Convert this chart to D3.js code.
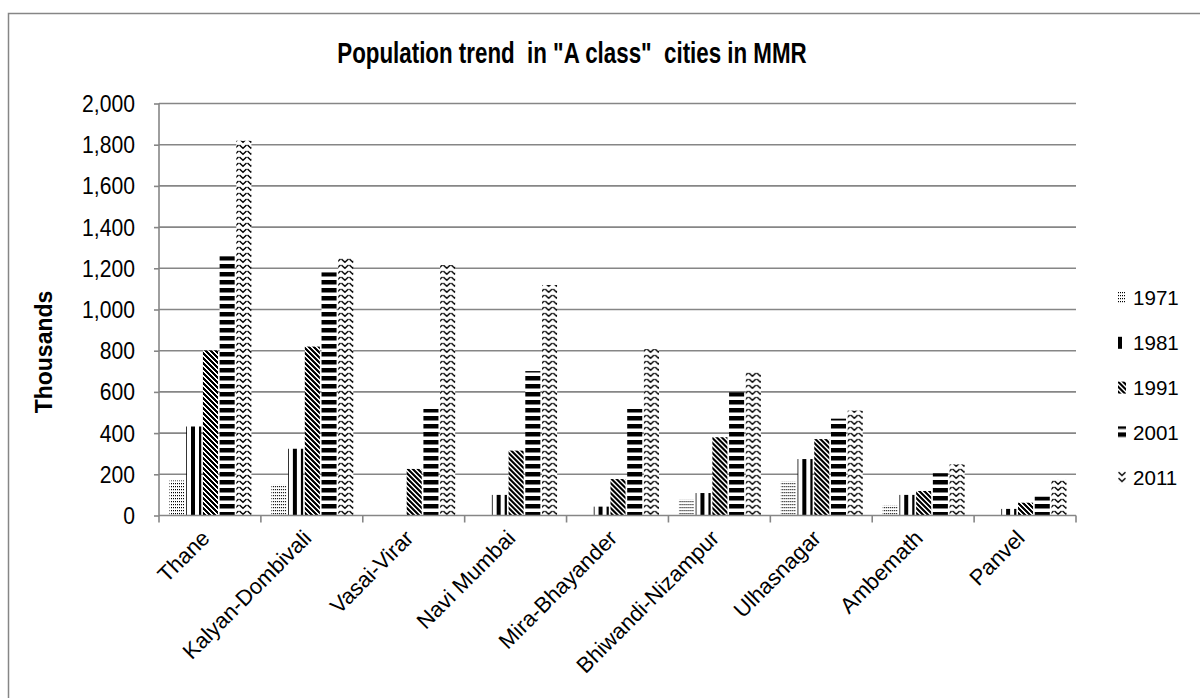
<!DOCTYPE html>
<html>
<head>
<meta charset="utf-8">
<script src="https://cdn.jsdelivr.net/npm/d3@7"></script>
<style>
html,body{margin:0;padding:0;background:#fff;}
svg{display:block;}
text{font-family:"Liberation Sans",Arial,sans-serif;fill:#000;}
</style>
</head>
<body>
<svg id="chart" width="1200" height="698"></svg>
<script>
const cities = ["Thane","Kalyan-Dombivali","Vasai-Virar","Navi Mumbai","Mira-Bhayander","Bhiwandi-Nizampur","Ulhasnagar","Ambemath","Panvel"];
const years = ["1971","1981","1991","2001","2011"];
const v1971 = [170,149,0,0,0,79,167,51,0];
const v1981 = [432,324,0,100,43,109,274,100,32];
const v1991 = [801,820,226,315,177,380,371,119,62];
const v2001 = [1258,1180,517,701,517,598,470,205,91];
const v2011 = [1819,1250,1216,1119,808,701,509,248,177];
const yTicks = [0,200,400,600,800,1000,1200,1400,1600,1800,2000];
const title = 'Population trend  in "A class"  cities in MMR';
const yTitle = "Thousands";

const seriesVals = [v1971,v1981,v1991,v2001,v2011];

const svg = d3.select("#chart");
const defs = svg.append("defs");

function pat(id,w,h){
  const p = defs.append("pattern").attr("id",id).attr("patternUnits","userSpaceOnUse")
    .attr("width",w).attr("height",h);
  p.append("rect").attr("width",w).attr("height",h).attr("fill","#fff");
  return p;
}
// 1971 dotted
{ const p = pat("p1971",2,3);
  p.append("rect").attr("x",0).attr("y",0).attr("width",1).attr("height",1.2).attr("fill","#000"); }
// 1981 wide vertical
{ const p = pat("p1981",8,8);
  p.append("rect").attr("x",0).attr("y",0).attr("width",4).attr("height",8).attr("fill","#000"); }
// 1991 wide downward diagonal
{ const p = pat("p1991",5,5);
  for(let r=0;r<5;r++){ for(let k=0;k<3;k++){
    p.append("rect").attr("x",(r+k)%5).attr("y",r).attr("width",1).attr("height",1).attr("fill","#000").attr("shape-rendering","crispEdges");
  }} }
// 2001 wide horizontal
{ const p = pat("p2001",8,8);
  p.append("rect").attr("x",0).attr("y",0).attr("width",8).attr("height",4.5).attr("fill","#000"); }
// 2011 zigzag (chevrons)
{ const p = pat("p2011",8,6);
  p.append("path").attr("d","M0.5,1 L4,4.3 L7.5,1").attr("fill","none").attr("stroke","#000").attr("stroke-width",1.4); }

const patIds = ["p1971","p1981","p1991","p2001","p2011"];

// frame
svg.append("rect").attr("x",8.5).attr("y",13.5).attr("width",1300).attr("height",800)
  .attr("fill","none").attr("stroke","#868686").attr("stroke-width",1.5);

const x0 = d3.scaleBand().domain(cities).range([159,1076]).padding(0);
const x1 = d3.scaleBand().domain(years).range([10.5, x0.bandwidth()-9.5]).paddingInner(0.1);
const y = d3.scaleLinear().domain([0,2000]).range([515.5,103.5]);

// gridlines
svg.append("g").selectAll("line").data(yTicks.filter(d=>d>0)).join("line")
  .attr("x1",159).attr("x2",1076).attr("y1",d=>y(d)).attr("y2",d=>y(d))
  .attr("stroke","#868686").attr("stroke-width",1.6);

// bars
const groups = svg.append("g").selectAll("g").data(cities).join("g")
  .attr("transform",c=>`translate(${x0(c)},0)`);
groups.selectAll("rect").data((c,i)=>years.map((yr,j)=>({yr,j,v:seriesVals[j][i]})).filter(d=>d.v>0)).join("rect")
  .attr("x",d=>x1(d.yr)).attr("width",x1.bandwidth())
  .attr("y",d=>y(d.v)).attr("height",d=>y(0)-y(d.v))
  .attr("fill",d=>`url(#${patIds[d.j]})`);

// y axis
const yAxis = d3.axisLeft(y).tickValues(yTicks).tickSize(5).tickPadding(0).tickFormat(d3.format(","));
const gy = svg.append("g").attr("transform","translate(159,0)").call(yAxis);
gy.select(".domain").attr("stroke","#868686").attr("stroke-width",1.6).attr("d","M0,103.5V515.5");
gy.selectAll(".tick line").attr("stroke","#868686").attr("stroke-width",1.6);
gy.selectAll(".tick text").attr("font-size",23).attr("font-family","Liberation Sans, Arial, sans-serif")
  .attr("x",0).attr("dy","0.35em").attr("text-anchor","end")
  .attr("transform","translate(-24,0) scale(0.92,1)");

// x axis
const gx = svg.append("g").attr("transform","translate(0,515.5)");
gx.append("line").attr("x1",159).attr("x2",1076).attr("stroke","#868686").attr("stroke-width",1.6);
const bounds = cities.map(c=>x0(c)).concat([x0(cities[cities.length-1])+x0.bandwidth()]);
gx.selectAll("line.tk").data(bounds).join("line").attr("class","tk")
  .attr("x1",d=>d).attr("x2",d=>d).attr("y1",0).attr("y2",7)
  .attr("stroke","#868686").attr("stroke-width",1.6);
gx.selectAll("text").data(cities).join("text")
  .attr("font-size",22).attr("text-anchor","end")
  .attr("transform",c=>`translate(${x0(c)+x0.bandwidth()/2+1},${24}) rotate(-45)`)
  .text(c=>c);

// title
svg.append("text").attr("font-size",29).attr("font-weight","bold").attr("text-anchor","middle")
  .attr("xml:space","preserve").style("white-space","pre")
  .attr("transform","translate(572,63) scale(0.77,1)").text(title);

// y title
svg.append("text").attr("font-size",23).attr("font-weight","bold").attr("text-anchor","middle")
  .attr("transform","translate(52,352) rotate(-90)").text(yTitle);

// legend
const lg = svg.append("g").selectAll("g").data(years).join("g")
  .attr("transform",(d,i)=>`translate(1118,${298+i*44.8})`);
lg.append("rect").attr("x",0).attr("y",-6).attr("width",8).attr("height",12)
  .attr("fill",(d,i)=>`url(#${patIds[i]})`);
lg.append("text").attr("font-size",21).attr("dy","0.35em")
  .attr("transform","translate(15,0) scale(0.98,1)").text(d=>d);
</script>
</body>
</html>
